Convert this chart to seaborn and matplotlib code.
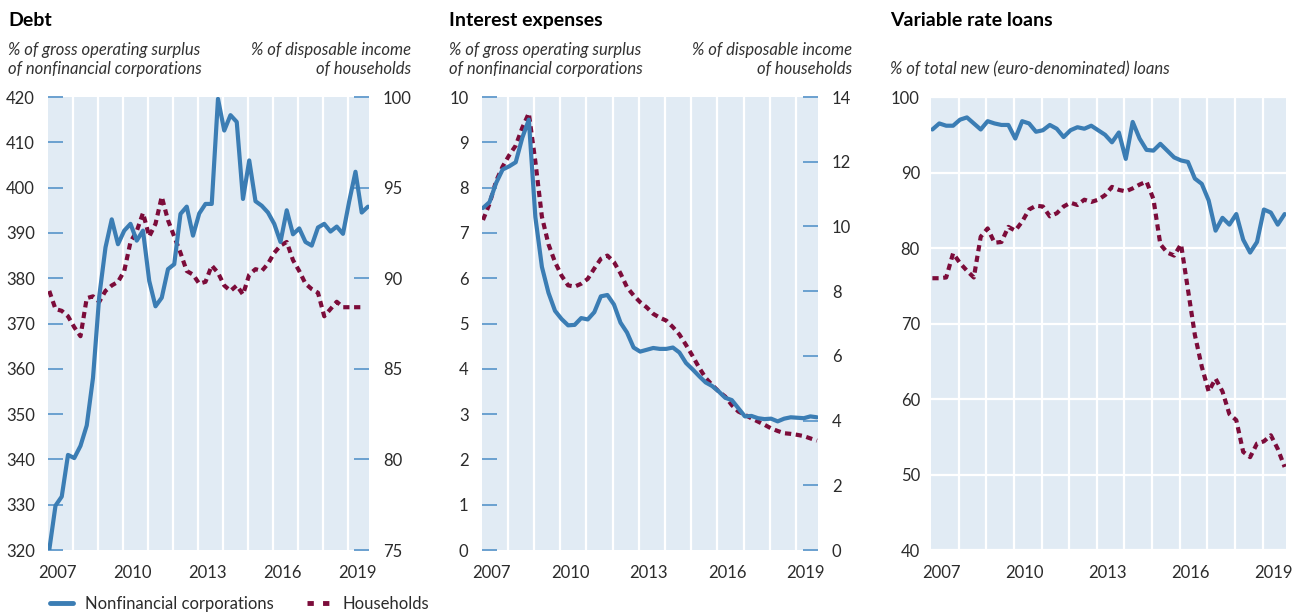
"""Debt, interest expenses and variable rate loans: three-panel line chart."""
import numpy as np
import pandas as pd
import matplotlib
matplotlib.use("Agg")
import matplotlib.pyplot as plt
import seaborn as sns

# quarterly observations, 2007Q1 .. 2019Q4
quarters = pd.period_range("2007Q1", periods=52, freq="Q")
year_labels = ["2007", "2010", "2013", "2016", "2019"]

nfc_debt = [320, 329.8, 331.8, 341, 340.3, 343, 347.5, 358, 376, 386.8,
            393, 387.5, 390.5, 392, 388.3, 390.5, 379.4, 373.8, 375.7, 382,
            383.1, 394.2, 395.8, 389.4, 394.3, 396.4, 396.4, 419.6, 412.6, 416,
            414.5, 397.5, 406, 397, 396, 394.5, 392, 388, 395, 389.7,
            391, 388, 387.2, 391.2, 392, 390.3, 391.4, 389.8, 397, 403.5,
            394.5, 395.8]
hh_debt = [89.3, 88.3, 88.2, 87.9, 87.3, 86.8, 88.9, 89.0, 88.7, 89.3,
           89.6, 89.8, 90.4, 92.0, 92.6, 93.6, 92.3, 93.0, 94.5, 93.2,
           92.3, 91.4, 90.4, 90.2, 89.7, 89.8, 90.7, 90.3, 89.6, 89.3,
           89.6, 89.1, 90.2, 90.5, 90.4, 90.8, 91.4, 91.8, 92.0, 91.0,
           90.4, 89.7, 89.4, 89.2, 87.9, 88.3, 88.7, 88.4, 88.4, 88.4,
           88.4, np.nan]

nfc_interest = [7.55, 7.68, 8.1, 8.40, 8.47, 8.56, 9.1, 9.5, 7.35, 6.25,
                5.68, 5.28, 5.1, 4.96, 4.97, 5.12, 5.09, 5.25, 5.6, 5.63,
                5.42, 5.02, 4.8, 4.47, 4.38, 4.42, 4.46, 4.44, 4.44, 4.47,
                4.36, 4.13, 3.99, 3.84, 3.70, 3.62, 3.50, 3.36, 3.31, 3.13,
                2.95, 2.96, 2.91, 2.89, 2.90, 2.84, 2.90, 2.93, 2.92, 2.91,
                2.95, 2.93]
hh_interest = [10.2, 10.7, 11.4, 11.85, 12.2, 12.5, 13.05, 13.5, 12.0, 10.3,
               9.45, 8.9, 8.48, 8.18, 8.14, 8.23, 8.38, 8.7, 9.0, 9.1,
               8.9, 8.55, 8.12, 7.87, 7.66, 7.5, 7.3, 7.18, 7.09, 6.89,
               6.66, 6.34, 6.0, 5.64, 5.32, 5.1, 4.9, 4.74, 4.48, 4.28,
               4.18, 4.07, 3.97, 3.87, 3.76, 3.68, 3.61, 3.59, 3.56, 3.52,
               3.45, 3.38]

nfc_variable = [95.7, 96.5, 96.2, 96.2, 97.0, 97.3, 96.5, 95.7, 96.8, 96.5,
                96.3, 96.3, 94.5, 96.8, 96.5, 95.4, 95.6, 96.3, 95.8, 94.7,
                95.6, 96.0, 95.8, 96.2, 95.6, 95.0, 94.0, 95.3, 91.8, 96.7,
                94.5, 93.0, 92.9, 93.8, 92.9, 92.0, 91.6, 91.4, 89.2, 88.5,
                86.3, 82.3, 84.0, 83.1, 84.5, 81.1, 79.4, 80.8, 85.1, 84.7,
                83.1, 84.5]
hh_variable = [76.0, 76.0, 76.1, 79.3, 78.0, 77.0, 76.1, 81.5, 82.6, 80.7,
               80.8, 82.8, 82.3, 83.5, 85.1, 85.6, 85.5, 84.2, 84.6, 85.5,
               86.0, 85.7, 86.4, 86.1, 86.4, 87.0, 88.1, 87.7, 87.5, 87.9,
               88.4, 88.8, 86.5, 80.5, 79.4, 79.0, 80.5, 74.5, 68.5, 64.3,
               61.0, 62.7, 61.0, 58.0, 57.2, 53.0, 52.3, 54.1, 54.4, 55.2,
               53.4, 51.0]

BLUE = "#3b7db4"
RED = "#7c0c3a"
BG = "#e1ebf4"
TICK = "#6aa0cf"
TEXT = "#2b2b2b"
DASH = (1.5, 1.1)

sns.set_theme(style="white")
plt.rcParams["font.family"] = ["Lato", "DejaVu Sans"]

# fractional year of each quarter (slightly after quarter start)
x = quarters.year + (quarters.quarter - 1) / 4 + 0.05
df = pd.DataFrame({
    "x": x,
    "nfc_debt": nfc_debt, "hh_debt": hh_debt,
    "nfc_interest": nfc_interest, "hh_interest": hh_interest,
    "nfc_variable": nfc_variable, "hh_variable": hh_variable,
})

fig = plt.figure(figsize=(12.99, 6.16), dpi=100)
H = 0.7354
B = 0.1071
positions = [(0.03695, B, 0.2471, H), (0.3708, B, 0.2589, H), (0.7167, B, 0.2731, H)]
XMIN, XMAX = 2007.0, 2019.84
label_pos = [int(y) + 0.38 for y in year_labels]


def style_x(ax):
    ax.set_xlim(XMIN, XMAX)
    ax.set_xticks(label_pos)
    ax.set_xticklabels(year_labels)
    ax.set_xticks(range(2008, 2020), minor=True)
    ax.tick_params(axis="x", which="both", length=0, pad=11, labelsize=12,
                   labelcolor=TEXT)
    ax.grid(False)
    ax.grid(axis="x", which="minor", color="white", linewidth=1.6)
    ax.set_xlabel("")
    ax.set_ylabel("")
    for s in ax.spines.values():
        s.set_visible(False)


def dual_panel(pos, left_col, right_col, lylim, lticks, rylim, rticks):
    ax2 = fig.add_axes(pos)  # bottom layer: background, grid, households
    ax = ax2.twinx()         # top layer: nonfinancial corporations
    ax2.set_facecolor(BG)
    ax.patch.set_visible(False)

    sns.lineplot(data=df, x="x", y=right_col, ax=ax2, color=RED, linewidth=3,
                 linestyle=(0, DASH))
    sns.lineplot(data=df, x="x", y=left_col, ax=ax, color=BLUE, linewidth=3)
    style_x(ax2)
    ax.set_xlabel("")
    ax.set_ylabel("")
    for s in ax.spines.values():
        s.set_visible(False)

    ax.yaxis.tick_left()
    ax.set_ylim(*lylim)
    ax.set_yticks(lticks)
    ax.tick_params(axis="y", direction="in", length=11, width=1.4, color=TICK,
                   pad=9.5, labelsize=12, labelcolor=TEXT, left=True, right=False,
                   labelleft=True, labelright=False)
    ax2.yaxis.tick_right()
    ax2.set_ylim(*rylim)
    ax2.set_yticks(rticks)
    ax2.tick_params(axis="y", direction="in", length=11, width=1.4, color=TICK,
                    pad=10, labelsize=12, labelcolor=TEXT, right=True, left=False,
                    labelright=True, labelleft=False)
    return ax, ax2


# Panel 1: Debt
dual_panel(positions[0], "nfc_debt", "hh_debt", (320, 420), range(320, 421, 10),
           (75, 100), range(75, 101, 5))
# Panel 2: Interest expenses
dual_panel(positions[1], "nfc_interest", "hh_interest", (0, 10), range(0, 11),
           (0, 14), range(0, 15, 2))

# Panel 3: Variable rate loans
ax3 = fig.add_axes(positions[2])
ax3.set_facecolor(BG)
sns.lineplot(data=df, x="x", y="hh_variable", ax=ax3, color=RED, linewidth=3,
             linestyle=(0, DASH))
sns.lineplot(data=df, x="x", y="nfc_variable", ax=ax3, color=BLUE, linewidth=3)
style_x(ax3)
ax3.set_ylim(40, 100)
ax3.set_yticks(range(40, 101, 10))
ax3.grid(axis="y", color="white", linewidth=1.6)
ax3.tick_params(axis="y", length=0, pad=8, labelsize=12, labelcolor=TEXT)

# titles and unit notes
title_kw = dict(fontsize=14, fontweight="bold", color="black", va="baseline")
note_kw = dict(fontsize=12, style="italic", color="#333333", va="baseline",
               linespacing=1.2)
gross = "% of gross operating surplus\nof nonfinancial corporations"
disp = "% of disposable income\nof households"
fig.text(8 / 1299, 1 - 26 / 616, "Debt", **title_kw)
fig.text(449 / 1299, 1 - 26 / 616, "Interest expenses", **title_kw)
fig.text(890 / 1299, 1 - 26 / 616, "Variable rate loans", **title_kw)
fig.text(8 / 1299, 1 - 74 / 616, gross, ha="left", **note_kw)
fig.text(411 / 1299, 1 - 74 / 616, disp, ha="right", multialignment="right", **note_kw)
fig.text(449 / 1299, 1 - 74 / 616, gross, ha="left", **note_kw)
fig.text(852 / 1299, 1 - 74 / 616, disp, ha="right", multialignment="right", **note_kw)
fig.text(890 / 1299, 1 - 74 / 616, "% of total new (euro-denominated) loans",
         ha="left", **note_kw)

# legend
handles = [plt.Line2D([], [], color=BLUE, linewidth=3.5),
           plt.Line2D([], [], color=RED, linewidth=3.5, linestyle=(0, (1.3, 1.9)))]
fig.legend(handles, ["Nonfinancial corporations", "Households"],
           loc="center left", bbox_to_anchor=(35 / 1299, 1 - 604 / 616), ncol=2,
           frameon=False, fontsize=12, handlelength=1.4, handletextpad=0.7,
           columnspacing=2.0, labelcolor=TEXT)

fig.savefig("out.png", dpi=100)
plt.close(fig)
